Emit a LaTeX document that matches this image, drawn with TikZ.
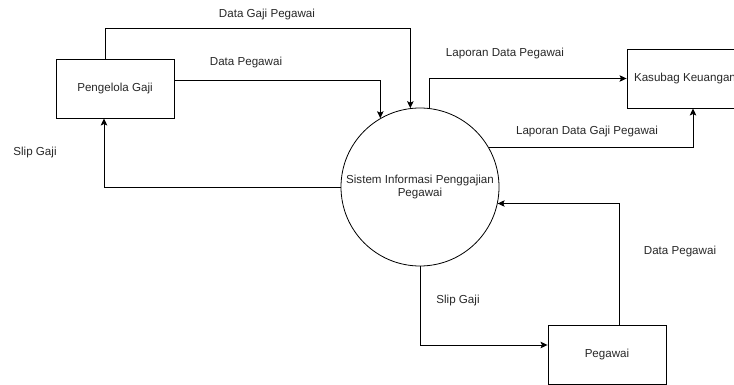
\documentclass[tikz,border=0pt]{standalone}
\usepackage{fontspec}
\setmainfont{Liberation Sans}
\usetikzlibrary{arrows.meta}
\definecolor{txt}{RGB}{40,40,40}
\begin{document}
\begin{tikzpicture}[x=1pt,y=-1pt,
  every node/.style={font=\fontsize{11.6}{14}\selectfont, text=txt},
  ent/.style={draw, line width=0.9pt, minimum width=118pt, minimum height=59pt, inner sep=0pt},
  proc/.style={draw, line width=0.8pt, circle, minimum size=158pt, inner sep=0pt, align=center},
  flow/.style={line width=0.9pt, -{Stealth[length=7pt,width=6.5pt,inset=1.5pt]}},
  lbl/.style={inner sep=0pt}]
\useasboundingbox[fill=white] (0,0) rectangle (734,385);
\node[ent] (pg) at (115,88.5) {Pengelola Gaji};
\node[ent, minimum width=116pt] (kas) at (685,78.5) {Kasubag Keuangan};
\node[ent] (peg) at (607,354.5) {Pegawai};
\node[proc] (sys) at (420,187) {Sistem Informasi Penggajian\\[-1pt]Pegawai};
% flows
\draw[flow] ([xshift=-10pt]pg.north) -- ++(0,-30) -| (sys.97);
\draw[flow] ([yshift=8.5pt]pg.east) -| (sys.120);
\draw[flow] (sys.west) -| ([xshift=-11pt]pg.south);
\draw[flow] (sys.83) |- (kas.west);
\draw[flow] (sys.30) -| ([xshift=8pt]kas.south);
\draw[flow] ([xshift=12pt]peg.north) |- (sys.-12.4);
\draw[flow] (sys.south) |- ([yshift=9.5pt]peg.west);
% labels
\node[lbl] (l1) at (267,15) {Data Gaji Pegawai};
\node[lbl] (l2) at (246,63) {Data Pegawai};
\node[lbl] (l3) at (35,153) {Slip Gaji};
\node[lbl] (l4) at (505,54) {Laporan Data Pegawai};
\node[lbl] (l5) at (587,132) {Laporan Data Gaji Pegawai};
\node[lbl] (l6) at (680,252) {Data Pegawai};
\node[lbl] (l7) at (458,300) {Slip Gaji};
\end{tikzpicture}
\end{document}
